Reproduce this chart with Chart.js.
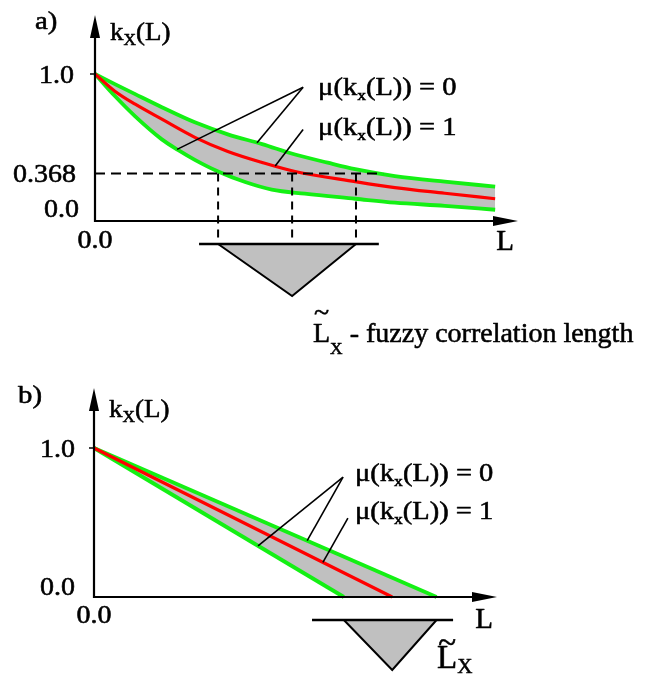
<!DOCTYPE html>
<html>
<head>
<meta charset="utf-8">
<script src="https://cdn.jsdelivr.net/npm/chart.js@4.4.1/dist/chart.umd.min.js"></script>
<style>
  html, body { margin: 0; padding: 0; background: #fff; width: 650px; height: 678px; overflow: hidden; }
  canvas { position: absolute; left: 0; display: block; background: transparent; }
  #ca { top: 0; }
  #cb { top: 350px; }
</style>
</head>
<body>
<canvas id="ca" width="650" height="364"></canvas>
<canvas id="cb" width="650" height="328"></canvas>
<script>
// ======================= DATA =======================
// ---- panel a) : exponential-type correlation function k_x(L) with fuzzy correlation length
const aLowerL = [0, 4.7, 9.5, 15.8, 19.6, 23.6, 29.1, 35.5, 41.8, 49.6, 61.5, 70.9, 82.7, 94.6];
const aLowerK = [1.0, 0.86, 0.731, 0.585, 0.518, 0.455, 0.381, 0.314, 0.266, 0.24, 0.208, 0.183, 0.163, 0.138];
const aMidL   = [0, 4.7, 9.5, 15.8, 23.6, 31.4, 39.5, 47.3, 61.5, 70.9, 82.7, 94.6];
const aMidK   = [1.0, 0.891, 0.808, 0.713, 0.598, 0.508, 0.438, 0.381, 0.317, 0.279, 0.243, 0.208];
const aUpperL = [0, 4.7, 9.5, 15.8, 23.6, 31.4, 39.5, 47.3, 55.0, 61.5, 70.9, 82.7, 94.6];
const aUpperK = [1.0, 0.936, 0.872, 0.789, 0.693, 0.617, 0.555, 0.489, 0.437, 0.396, 0.352, 0.316, 0.285];
const aFuzzyL  = [29.1, 46.6, 61.7];   // support left, modal value, support right
const aFuzzyMu = [0, 1, 0];
const aFuzzyBaseL = [24.6, 67.1];
const aLevelK = 0.368;
const aLevelEndL = 68.1;
const aYTickValues = [1.0, 0.368, 0.0];
const aYTickLabels = ['1.0', '0.368', '0.0'];
const aXTickLabel = '0.0';
const aLead0From = [49.2, 0.916];
const aLead0To   = [['lower', 19.4], ['upper', 38.3]];
const aLead1From = [49.2, 0.648];
const aLead1To   = [['mid', 42.6]];

// ---- panel b) : linear correlation function k_x(L) with fuzzy correlation length
const bLowerL = [0, 62];
const bLowerK = [1.0, 0.0];
const bLowerBoundL = [0, 62, 85];     // lower bound continued at k = 0 (limit of the grey band)
const bLowerBoundK = [1.0, 0.0, 0.0];
const bMidL   = [0, 74];
const bMidK   = [1.0, 0.0];
const bUpperL = [0, 85];
const bUpperK = [1.0, 0.0];
const bFuzzyL  = [62, 74, 85];
const bFuzzyMu = [0, 1, 0];
const bFuzzyBaseL = [54.1, 89.1];
const bYTickValues = [1.0, 0.0];
const bYTickLabels = ['1.0', '0.0'];
const bXTickLabel = '0.0';
const bLead0From = [61.8, 0.805];
const bLead0To   = [['lower', 40.7], ['upper', 52.9]];
const bLead1From = [63.0, 0.53];
const bLead1To   = [['mid', 56.8]];

// text content
const muLabel0 = [{t: 'μ(k'}, {t: 'x', sub: true}, {t: '(L)) = 0'}];
const muLabel1 = [{t: 'μ(k'}, {t: 'x', sub: true}, {t: '(L)) = 1'}];
const yAxisTitle = [{t: 'k'}, {t: 'X', sub: true}, {t: '(L)'}];
const xAxisTitle = 'L';

// ======================= STYLE =======================
const FONT = '"Liberation Serif", "Times New Roman", serif';
const GREEN = '#14f014';
const RED = '#ff0000';
const GRAY = '#c0c0c0';
const TEXT_STROKE = 0.55;

function richWidth(ctx, parts, size, subScale) {
  let w = 0;
  for (const p of parts) {
    ctx.font = (p.sub ? size * subScale : size) + 'px ' + FONT;
    w += ctx.measureText(p.t).width;
  }
  return w;
}
function drawRich(ctx, parts, x, y, size, align, opt) {
  opt = opt || {};
  const subScale = opt.subScale || 0.66;
  const subDrop = opt.subDrop != null ? opt.subDrop : size * 0.22;
  const sx = opt.sx || 1;
  const w = richWidth(ctx, parts, size, subScale) * sx;
  const left = align === 'right' ? x - w : align === 'center' ? x - w / 2 : x;
  ctx.save();
  ctx.fillStyle = '#000';
  ctx.strokeStyle = '#000';
  ctx.lineWidth = TEXT_STROKE;
  ctx.lineJoin = 'round';
  ctx.textAlign = 'left';
  ctx.textBaseline = 'alphabetic';
  ctx.translate(left, y);
  ctx.scale(sx, 1);
  let cx = 0;
  const put = (t, px, py) => { ctx.fillText(t, px, py); ctx.strokeText(t, px, py); };
  for (const p of parts) {
    const s = p.sub ? size * subScale : size;
    ctx.font = s + 'px ' + FONT;
    const pw = ctx.measureText(p.t).width;
    put(p.t, cx, p.sub ? subDrop : 0);
    if (p.tilde) {
      ctx.textAlign = 'center';
      put('~', cx + pw / 2, -(opt.tildeRaise || 0));
      ctx.textAlign = 'left';
    }
    cx += pw;
  }
  ctx.restore();
}

function interp(Ls, Ks, L) {
  for (let i = 0; i < Ls.length - 1; i++) {
    if (L >= Ls[i] && L <= Ls[i + 1]) {
      const t = (L - Ls[i]) / (Ls[i + 1] - Ls[i]);
      return Ks[i] + t * (Ks[i + 1] - Ks[i]);
    }
  }
  return Ks[Ks.length - 1];
}

function arrowHead(ctx, x, y, dir, len, half) {
  ctx.beginPath();
  if (dir === 'up') {
    ctx.moveTo(x, y); ctx.lineTo(x - half, y + len); ctx.lineTo(x + half, y + len);
  } else {
    ctx.moveTo(x, y); ctx.lineTo(x - len, y - half); ctx.lineTo(x - len, y + half);
  }
  ctx.closePath();
  ctx.fill();
}

// pixel geometry helpers for the scales (layout only)
function rangeFor(zeroPx, unitPx, top, bottom) {
  return { max: (zeroPx - top) / unitPx, min: -(bottom - zeroPx) / unitPx };
}
function rangeForReversed(zeroPx, unitPx, top, bottom) {
  const min = -(zeroPx - top) / unitPx;
  return { min: min, max: min + (bottom - top) / unitPx };
}

function makePanel(id, P) {
  const el = document.getElementById(id);
  const W = el.width, H = el.height;
  const xy = (Ls, Ks) => Ls.map((l, i) => ({ x: l, y: Ks[i] }));
  const yr = rangeFor(P.L.zeroY, P.L.unitY, P.L.top, P.L.bottom);
  const mr = rangeForReversed(P.L.muZero, P.L.muUnit, P.L.top, P.L.bottom);
  const curves = { lower: [P.lowerL, P.lowerK], mid: [P.midL, P.midK], upper: [P.upperL, P.upperK] };
  const smooth = P.smooth ? 'monotone' : 'default';
  const T = P.T;

  const overlay = {
    id: 'overlay' + id,
    afterDatasetsDraw(chart) {
      const ctx = chart.ctx;
      const xs = chart.scales.x, ys = chart.scales.y, ms = chart.scales.mu;
      const X = v => xs.getPixelForValue(v);
      const Y = v => ys.getPixelForValue(v);
      const M = v => ms.getPixelForValue(v);
      const x0 = X(0);
      const y0 = P.L.axisY;
      const top = chart.chartArea.top, right = chart.chartArea.right;

      ctx.save();
      ctx.strokeStyle = '#000';
      ctx.fillStyle = '#000';
      ctx.lineCap = 'butt';

      // dashed construction lines (panel a)
      if (P.levelK != null) {
        ctx.setLineDash([10, 6]);
        ctx.lineWidth = 2;
        ctx.beginPath();
        ctx.moveTo(x0, Y(P.levelK)); ctx.lineTo(X(P.levelEndL), Y(P.levelK));
        ctx.stroke();
        ctx.setLineDash([8, 6]);
        for (const l of P.fuzzyL) {
          ctx.beginPath();
          ctx.moveTo(X(l), Y(P.levelK)); ctx.lineTo(X(l), M(0));
          ctx.stroke();
        }
        ctx.setLineDash([]);
      }

      // axes with arrows
      ctx.lineWidth = 2.2;
      ctx.beginPath();
      ctx.moveTo(x0, y0 + 1); ctx.lineTo(x0, top + 12);
      ctx.moveTo(x0 - 1, y0); ctx.lineTo(right - 12, y0);
      ctx.stroke();
      arrowHead(ctx, x0, top, 'up', 23, 5);
      arrowHead(ctx, right, y0, 'right', 25, 5);
      // small tick at 1.0
      ctx.lineWidth = 1.5;
      ctx.beginPath();
      ctx.moveTo(x0 - 5, Y(1)); ctx.lineTo(x0, Y(1));
      ctx.stroke();

      // leader lines
      ctx.lineWidth = 1.6;
      for (const [from, tos] of P.leaders) {
        for (const [c, l] of tos) {
          const k = interp(curves[c][0], curves[c][1], l);
          ctx.beginPath();
          ctx.moveTo(X(from[0]), Y(from[1]));
          ctx.lineTo(X(l), Y(k));
          ctx.stroke();
        }
      }
      ctx.restore();

      // tick labels
      P.yTickValues.forEach((v, i) => {
        drawRich(ctx, [{ t: P.yTickLabels[i] }], x0 - T.yTickGap[i], Y(v) + T.yTickOff[i], T.tickSize, 'right', { sx: 1.12 });
      });
      drawRich(ctx, [{ t: P.xTickLabel }], x0, y0 + T.xTickOff, T.tickSize, 'center', { sx: 1.12 });

      // axis titles, panel label, annotations
      drawRich(ctx, P.yTitle, x0 + 15, top + T.yTitleOff, T.titleSize, 'left', { subScale: 0.64, subDrop: 5, sx: 1.08 });
      drawRich(ctx, [{ t: P.xTitle }], right - 13, y0 + T.xTitleOff, T.lSize, 'center');
      drawRich(ctx, [{ t: P.panelLabel }], T.panelX, T.panelY, T.titleSize, 'left', { sx: 1.15 });
      const muOpt = { subScale: 0.62, subDrop: 5, sx: 1.14 };
      drawRich(ctx, P.mu0, X(P.leaders[0][0][0]) + T.mu0Off[0], Y(P.leaders[0][0][1]) + T.mu0Off[1], T.muSize, 'left', muOpt);
      drawRich(ctx, P.mu1, X(P.leaders[1][0][0]) + T.mu1Off[0], Y(P.leaders[1][0][1]) + T.mu1Off[1], T.muSize, 'left', muOpt);
      drawRich(ctx, P.fuzzyText, T.fuzzyX, T.fuzzyY, T.fuzzySize, 'left',
               { subScale: T.fuzzySub, subDrop: T.fuzzySubDrop, tildeRaise: T.tildeRaise });
    }
  };

  return new Chart(el, {
    type: 'line',
    data: {
      datasets: [
        { label: 'μ = 1', data: xy(P.midL, P.midK), yAxisID: 'y', borderColor: RED, borderWidth: 3.2,
          pointRadius: 0, fill: false, cubicInterpolationMode: smooth, clip: false },
        { label: 'μ = 0 (upper)', data: xy(P.upperL, P.upperK), yAxisID: 'y', borderColor: GREEN, borderWidth: 3.8,
          pointRadius: 0, fill: false, cubicInterpolationMode: smooth, clip: false },
        { label: 'μ = 0 (lower)', data: xy(P.lowerL, P.lowerK), yAxisID: 'y', borderColor: GREEN, borderWidth: 3.8,
          pointRadius: 0, fill: false, cubicInterpolationMode: smooth, clip: false },
        { label: 'band', data: xy(P.boundL || P.lowerL, P.boundK || P.lowerK), yAxisID: 'y', borderWidth: 0,
          borderColor: 'rgba(0,0,0,0)', pointRadius: 0, fill: { target: 1 }, backgroundColor: GRAY,
          cubicInterpolationMode: smooth, clip: false },
        { label: 'fuzzy L', data: xy(P.fuzzyL, P.fuzzyMu), yAxisID: 'mu', borderColor: '#000', borderWidth: 2,
          pointRadius: 0, fill: 'origin', backgroundColor: GRAY, tension: 0, clip: false },
        { label: 'base', data: xy(P.fuzzyBaseL, [0, 0]), yAxisID: 'mu', borderColor: '#000', borderWidth: 2.6,
          pointRadius: 0, fill: false, tension: 0, clip: false }
      ]
    },
    options: {
      responsive: false,
      animation: false,
      events: [],
      layout: { padding: { left: P.L.left, right: W - P.L.right, top: P.L.top, bottom: H - P.L.bottom } },
      scales: {
        x: { type: 'linear', min: 0, max: 100, display: false },
        y: { type: 'linear', min: yr.min, max: yr.max, display: false },
        mu: { type: 'linear', min: mr.min, max: mr.max, reverse: true, display: false }
      },
      plugins: {
        legend: { display: false },
        tooltip: { enabled: false },
        filler: { drawTime: 'beforeDatasetsDraw' }
      }
    },
    plugins: [overlay]
  });
}

makePanel('ca', {
  lowerL: aLowerL, lowerK: aLowerK, midL: aMidL, midK: aMidK, upperL: aUpperL, upperK: aUpperK,
  fuzzyL: aFuzzyL, fuzzyMu: aFuzzyMu, fuzzyBaseL: aFuzzyBaseL,
  levelK: aLevelK, levelEndL: aLevelEndL,
  yTickValues: aYTickValues, yTickLabels: aYTickLabels, xTickLabel: aXTickLabel,
  leaders: [[aLead0From, aLead0To], [aLead1From, aLead1To]],
  mu0: muLabel0, mu1: muLabel1, yTitle: yAxisTitle, xTitle: xAxisTitle, panelLabel: 'a)',
  fuzzyText: [{ t: 'L', tilde: true }, { t: 'X', sub: true }, { t: ' - fuzzy correlation length' }],
  smooth: true,
  L: { left: 95, right: 518, top: 15, bottom: 300, zeroY: 231.5, unitY: 157.5, axisY: 221, muZero: 244, muUnit: 52 },
  T: { tickSize: 25, titleSize: 25, muSize: 25, lSize: 29, fuzzySize: 28, fuzzySub: 0.62, fuzzySubDrop: 12, tildeRaise: 21,
       yTickGap: [21, 19, 16], yTickOff: [9, 8.5, -14.5], xTickOff: 27, yTitleOff: 25, xTitleOff: 29,
       mu0Off: [15, 8], mu1Off: [15, 6],
       panelX: 35, panelY: 29, fuzzyX: 313, fuzzyY: 342 }
});

makePanel('cb', {
  lowerL: bLowerL, lowerK: bLowerK, boundL: bLowerBoundL, boundK: bLowerBoundK,
  midL: bMidL, midK: bMidK, upperL: bUpperL, upperK: bUpperK,
  fuzzyL: bFuzzyL, fuzzyMu: bFuzzyMu, fuzzyBaseL: bFuzzyBaseL,
  levelK: null,
  yTickValues: bYTickValues, yTickLabels: bYTickLabels, xTickLabel: bXTickLabel,
  leaders: [[bLead0From, bLead0To], [bLead1From, bLead1To]],
  mu0: muLabel0, mu1: muLabel1, yTitle: yAxisTitle, xTitle: xAxisTitle, panelLabel: 'b)',
  fuzzyText: [{ t: 'L', tilde: true }, { t: 'X', sub: true }],
  smooth: false,
  L: { left: 94, right: 497, top: 38, bottom: 322, zeroY: 247, unitY: 149, axisY: 247, muZero: 270, muUnit: 50 },
  T: { tickSize: 25, titleSize: 25, muSize: 25, lSize: 29, fuzzySize: 33, fuzzySub: 0.64, fuzzySubDrop: 5, tildeRaise: 15,
       yTickGap: [19, 19], yTickOff: [9, -2], xTickOff: 26, yTitleOff: 29, xTitleOff: 31,
       mu0Off: [12, 4], mu1Off: [7, 1],
       panelX: 18, panelY: 53, fuzzyX: 437, fuzzyY: 318 }
});
</script>
</body>
</html>
